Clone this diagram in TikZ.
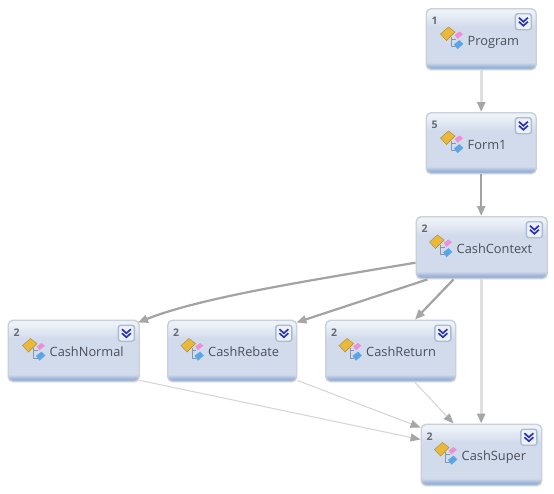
\documentclass[tikz,border=0pt]{standalone}
\usepackage{fontspec}
\setmainfont{Open Sans}
\usetikzlibrary{arrows.meta}
\definecolor{bandb}{HTML}{9DB3D8}
\definecolor{bandm}{HTML}{D2DBEC}
\definecolor{topc}{HTML}{EDF1F8}
\definecolor{edgec}{HTML}{C9D0DA}
\definecolor{txtc}{HTML}{4A4F5A}
\definecolor{hairc}{HTML}{D4D4D4}
\definecolor{faintc}{HTML}{E0E0E0}
\definecolor{heavyc}{HTML}{A3A3A3}
\definecolor{tipc}{HTML}{A6A6A6}
\definecolor{BtnEdge}{HTML}{A9BCD2}
\definecolor{navy}{HTML}{2A36B0}
\definecolor{goldc}{HTML}{E8B93A}
\definecolor{pinkc}{HTML}{EE8FD8}
\definecolor{bluec}{HTML}{5AA5E8}
\definecolor{linkc}{HTML}{8A95A5}
\pgfdeclareverticalshading{cardshade}{100bp}{
 color(0bp)=(bandb); color(25bp)=(bandb); color(27.5bp)=(bandb); color(31bp)=(bandm);
 color(60bp)=(bandm); color(72bp)=(topc); color(75bp)=(topc); color(100bp)=(topc)}
\tikzset{
 card/.style={draw=edgec,line width=1.4pt,rounded corners=5pt,shading=cardshade,anchor=north west,inner sep=0pt},
 numtext/.style={font=\fontsize{10.5}{12}\selectfont\bfseries,text=txtc!85,inner sep=0pt},
 cardtext/.style={font=\fontsize{12.8}{14}\selectfont,text=txtc,inner sep=0pt,anchor=west,text height=9.5pt,text depth=3pt},
 btn/.style={draw=BtnEdge,line width=1.4pt,rounded corners=2.5pt,fill=white!60!bandm,minimum size=16pt,inner sep=0pt},
 chev/.style={draw=navy,line width=1.7pt},
 tipped/.style={-{Triangle[length=10pt,width=8pt,color=tipc]}},
 faintedge/.style={tipped,draw=faintc,line width=2.6pt},
 hairedge/.style={tipped,draw=hairc,line width=1pt},
 heavyedge/.style={tipped,draw=heavyc,line width=2.2pt},
}
% #1 name, #2 x, #3 y, #4 w, #5 h, #6 number, #7 text offset
\newcommand{\classcard}[7]{%
 \node[card,minimum width=#4pt,minimum height=#5pt] (#1) at (#2,#3) {};
 \node[numtext] (#1num) at ([xshift=9pt,yshift=-13pt]#1.north west) {#6};
 \node[btn] (#1btn) at ([xshift=-13.5pt,yshift=-13.7pt]#1.north east) {};
 \path[chev,fill=none] ([xshift=-4.5pt,yshift=4pt]#1btn.center) -- ([yshift=0pt]#1btn.center) -- ([xshift=4.5pt,yshift=4pt]#1btn.center)
   ([xshift=-4.5pt,yshift=0pt]#1btn.center) -- ([yshift=-4pt]#1btn.center) -- ([xshift=4.5pt,yshift=0pt]#1btn.center);
 \node[cardtext] (#1txt) at ([xshift=#7pt,yshift=-34pt]#1.north west) {\cardlabel};
 \begin{scope}[shift={([yshift=2pt]#1txt.west)}]
  \draw[linkc,line width=1pt] (-16,-3.5) -- (-16,6.7) -- (-12,6.7) (-16,-1) -- (-12,-1);
  \fill[goldc,draw=goldc!75!black,line width=.4pt] (-27,-6) -- (-19,-13) -- (-12.5,-8) -- (-21,0.5) -- cycle;
  \fill[pinkc] (-12.8,-5) -- (-8,-8.5) -- (-4.5,-5.7) -- (-10,-1.2) -- cycle;
  \fill[bluec] (-13.5,4.3) -- (-8,.2) -- (-4.2,4) -- (-10,9.2) -- cycle;
 \end{scope}
}
\newcommand{\cardlabel}{}
\begin{document}
\begin{tikzpicture}[x=1pt,y=-1pt]
\useasboundingbox (0,0) rectangle (554,493);
\fill[white] (0,0) rectangle (554,493);
\renewcommand{\cardlabel}{Program}\classcard{prog}{425.5}{8}{110}{61}{1}{42}
\renewcommand{\cardlabel}{Form1}\classcard{form}{425.5}{112}{110}{61}{5}{42}
\renewcommand{\cardlabel}{CashContext}\classcard{ctx}{415.5}{216}{131}{62}{2}{41}
\renewcommand{\cardlabel}{CashNormal}\classcard{normal}{7.5}{319.5}{131}{61.5}{2}{42}
\renewcommand{\cardlabel}{CashRebate}\classcard{rebate}{167}{319.5}{129}{61.5}{2}{41}
\renewcommand{\cardlabel}{CashReturn}\classcard{return}{325}{319.5}{130}{61.5}{2}{41}
\renewcommand{\cardlabel}{CashSuper}\classcard{super}{420.5}{423.5}{120.5}{61.5}{2}{41}
\draw[faintedge] (prog.south) -- (form.north);
\draw[heavyedge] (form.south) -- (ctx.north -| form.south);
\draw[heavyedge] ([yshift=-15pt]ctx.west) .. controls (300,282) and (200,298) .. ([yshift=-3pt,xshift=-2pt]normal.north east);
\draw[heavyedge] ([xshift=12pt]ctx.south west) -- ([yshift=-3pt,xshift=-1pt]rebate.north east);
\draw[heavyedge] ([xshift=38pt]ctx.south west) -- ([xshift=90pt]return.north west);
\draw[faintedge] (ctx.south -| form.south) -- (super.north -| form.south);
\draw[hairedge] ([yshift=2pt]normal.south east) -- ([yshift=-16pt]super.north west);
\draw[hairedge] ([yshift=2pt]rebate.south east) -- ([yshift=-4pt]super.north west);
\draw[hairedge] ([xshift=90pt]return.south west) -- ([xshift=33pt]super.north west);
\end{tikzpicture}
\end{document}
